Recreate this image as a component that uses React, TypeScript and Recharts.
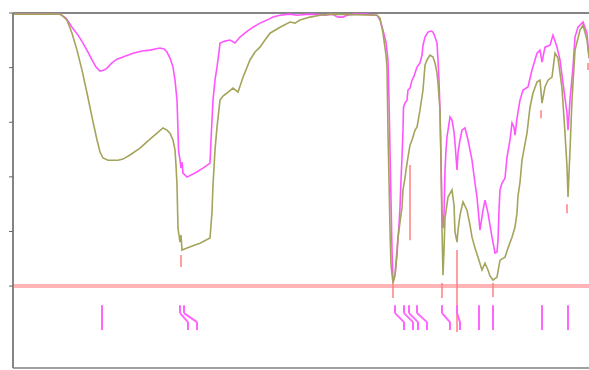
import { LineChart, Line, XAxis, YAxis, ReferenceLine } from "recharts"

// x is the channel position, y the signal level (0 = baseline)
const magentaTrace: [number, number][] = [
    [13, 99.6], [40, 99.6], [60, 99.6], [66, 98.1], [72, 94.8], [78, 91.9], [83, 89.0], [88, 85.7],
    [92, 82.8], [96, 80.2], [100, 78.7], [104, 79.1], [107, 79.8], [112, 81.7], [117, 83.1], [125, 84.2],
    [133, 85.3], [142, 86.1], [150, 86.4], [160, 87.2], [164, 86.8], [167, 85.7], [170, 83.5], [173, 80.2],
    [175, 75.4], [177, 68.1], [178, 57.1], [178.5, 49.8], [180, 46.1], [181, 43.2], [182, 45.4], [183, 41.4],
    [187, 39.9], [195, 41.4], [203, 43.2], [210, 45.0], [211, 53.5], [213, 68.1], [215, 75.4], [217, 80.2],
    [219, 85.7], [220, 89.0], [225, 89.7], [230, 90.1], [235, 89.0], [240, 91.2], [246, 93.0], [253, 94.8],
    [260, 96.3], [267, 97.4], [273, 98.5], [280, 99.2], [290, 99.6], [297, 99.2], [310, 99.6], [325, 99.2],
    [332, 99.6], [338, 98.5], [343, 98.5], [347, 99.2], [355, 99.6], [365, 99.6], [377, 99.2], [380, 97.4],
    [383, 93.7], [386, 89.3], [388, 82.8], [389, 68.1], [390, 49.8], [391, 31.5], [392, 13.2], [393, 1.5],
    [395, 4.0], [397, 13.2], [399, 22.3], [400, 28.9], [401, 38.8], [402, 47.2], [403, 57.1], [403.5, 65.5],
    [405, 67.0], [407, 68.1], [408, 71.8], [410, 72.5], [412, 75.4], [414, 76.9], [417, 80.2], [420, 81.7],
    [422, 84.6], [423, 88.2], [425, 91.2], [428, 93.0], [431, 93.4], [433, 93.0], [435, 91.2], [437, 89.0],
    [438, 82.8], [439, 75.4], [440, 64.4], [441, 46.1], [442, 27.8], [443, 21.2], [444, 26.0], [445, 42.5],
    [446, 49.8], [447, 54.6], [450, 61.9], [452, 60.8], [454, 56.4], [455, 52.4], [457, 42.5], [458, 48.7],
    [460, 53.5], [462, 57.1], [465, 57.9], [468, 53.5], [470, 49.8], [472, 46.1], [475, 37.7], [477, 32.6],
    [480, 20.5], [483, 27.8], [485, 31.5], [488, 26.7], [490, 22.3], [492, 17.9], [495, 12.1], [497, 12.5],
    [498, 16.8], [499, 27.8], [500, 35.2], [502, 37.7], [505, 39.5], [507, 47.2], [510, 53.5], [512, 59.7],
    [514, 58.2], [515, 55.3], [517, 61.5], [520, 68.1], [523, 71.8], [528, 72.9], [532, 79.1], [537, 85.3],
    [540, 86.4], [542, 82.0], [545, 87.5], [550, 88.2], [553, 91.9], [557, 87.5], [560, 82.8], [563, 74.3],
    [567, 63.3], [568, 57.1], [570, 68.1], [573, 80.2], [575, 91.2], [578, 94.8], [583, 96.7], [587, 92.6],
    [589, 83.9], [595, 79.1],
]

const oliveTrace: [number, number][] = [
    [13, 99.6], [60, 99.6], [64, 98.5], [67, 97.4], [72, 92.6], [77, 86.4], [82, 79.1], [87, 70.7],
    [92, 61.9], [97, 53.5], [100, 49.1], [103, 46.9], [108, 46.1], [113, 46.1], [118, 46.1], [123, 46.5],
    [130, 48.0], [140, 50.5], [150, 53.8], [157, 56.0], [163, 57.9], [167, 57.1], [170, 56.0], [173, 53.5],
    [175, 49.8], [176, 44.3], [177, 37.0], [178, 21.2], [180, 16.1], [181, 18.7], [182, 13.2], [187, 13.9],
    [195, 15.0], [200, 15.7], [210, 17.6], [211, 22.3], [212, 27.1], [213, 37.0], [215, 49.8], [217, 58.2],
    [220, 68.1], [223, 69.6], [227, 70.7], [233, 72.5], [238, 71.0], [243, 76.5], [250, 82.8], [255, 85.7],
    [260, 87.5], [265, 90.1], [270, 92.6], [280, 94.8], [290, 96.7], [295, 96.3], [300, 97.4], [310, 98.5],
    [320, 99.2], [330, 99.6], [377, 99.2], [380, 98.1], [383, 92.6], [386, 84.6], [387, 80.2], [388, 56.0],
    [389, 38.8], [390, 20.5], [391, 7.7], [393, 1.1], [395, 4.0], [397, 11.4], [398, 17.6], [400, 23.4],
    [402, 28.9], [403, 35.2], [405, 39.5], [406, 42.5], [408, 47.2], [410, 51.6], [412, 53.5], [415, 57.1],
    [417, 58.2], [420, 64.4], [423, 71.8], [425, 80.9], [427, 82.8], [430, 84.6], [433, 83.9], [435, 81.7],
    [437, 78.0], [438, 74.3], [440, 64.4], [441, 46.1], [442, 20.5], [443, 4.0], [444, 13.2], [445, 24.9],
    [448, 32.6], [452, 35.2], [454, 29.7], [455, 19.8], [457, 16.1], [458, 20.5], [460, 26.0], [463, 30.8],
    [467, 27.8], [470, 22.3], [472, 17.9], [475, 13.9], [478, 10.6], [482, 5.9], [485, 8.4], [488, 5.9],
    [490, 3.7], [493, 2.2], [497, 3.3], [500, 9.5], [505, 10.6], [508, 13.9], [512, 17.9], [515, 21.6],
    [517, 26.7], [518, 33.0], [520, 38.0], [522, 46.1], [527, 56.0], [530, 65.5], [533, 70.7], [537, 74.7],
    [540, 75.4], [542, 67.0], [545, 72.9], [548, 75.4], [552, 76.5], [555, 85.3], [558, 83.5], [562, 72.5],
    [565, 56.0], [567, 43.6], [568, 32.6], [570, 49.8], [572, 68.1], [575, 86.4], [580, 93.7], [583, 95.6],
    [587, 90.1], [589, 83.9], [595, 80.0],
]

// red peak picks: x, top, bottom
const peakPicks: [number, number, number][] = [
    [181, 11.4, 7.0], [393, 1.1, -4.4], [410, 44.3, 16.8], [442, 1.1, -4.4], [457, 13.2, -16.8],
    [493, 1.1, -4.0], [541, 64.4, 61.5], [567, 30.0, 26.7], [588, 81.7, 79.1],
]

// label leaders: peak x, shifted label x
const peakLabels: [number, number][] = [
    [102, 102], [180, 188], [184, 197], [395, 404], [404, 413], [409, 418], [417, 427],
    [442, 450], [457, 460], [479, 479], [493, 493], [542, 542], [568, 568],
]

const yTicks = [0, 20, 40, 60, 80, 100]

const magentaData = magentaTrace.map(([x, y]) => ({ x, y }))
const oliveData = oliveTrace.map(([x, y]) => ({ x, y }))

export default function App() {
    return (
        <div
            style={{
                position: "absolute",
                left: 0,
                top: 0,
                width: 589,
                height: 370,
                overflow: "hidden",
                background: "#fff",
            }}
        >
            <LineChart
                width={600}
                height={370}
                margin={{ top: 13, right: 0, bottom: 2, left: 0 }}
            >
                <XAxis
                    type="number"
                    dataKey="x"
                    domain={[13, 600]}
                    allowDataOverflow
                    hide
                />
                <YAxis
                    type="number"
                    domain={[-30, 100]}
                    ticks={yTicks}
                    width={13}
                    tickSize={4}
                    tickFormatter={() => ""}
                    axisLine={{ stroke: "#858585", strokeWidth: 2 }}
                    tickLine={{ stroke: "#666" }}
                />

                <ReferenceLine y={100} stroke="#858585" strokeWidth={2} />
                <ReferenceLine y={-30} stroke="#a0a0a0" strokeWidth={2} />
                <ReferenceLine y={0} stroke="#ffb4b8" strokeWidth={4} />

                <Line
                    data={magentaData}
                    dataKey="y"
                    type="linear"
                    stroke="#ff55ff"
                    strokeWidth={1.6}
                    dot={false}
                    isAnimationActive={false}
                />
                <Line
                    data={oliveData}
                    dataKey="y"
                    type="linear"
                    stroke="#a4a45c"
                    strokeWidth={1.6}
                    dot={false}
                    isAnimationActive={false}
                />

                {peakPicks.map(([x, top, bottom], i) => (
                    <ReferenceLine
                        key={"p" + i}
                        segment={[{ x, y: top }, { x, y: bottom }]}
                        stroke="#ff8080"
                        strokeWidth={1.5}
                    />
                ))}

                {peakLabels.map(([x, lx], i) => (
                    <ReferenceLine
                        key={"a" + i}
                        segment={[{ x, y: -7 }, { x, y: -9.9 }]}
                        stroke="#ff66ff"
                        strokeWidth={2}
                    />
                ))}
                {peakLabels.map(([x, lx], i) => (
                    <ReferenceLine
                        key={"b" + i}
                        segment={[{ x, y: -9.9 }, { x: lx, y: -13.2 }]}
                        stroke="#ff66ff"
                        strokeWidth={2}
                    />
                ))}
                {peakLabels.map(([x, lx], i) => (
                    <ReferenceLine
                        key={"c" + i}
                        segment={[{ x: lx, y: -13.2 }, { x: lx, y: -16.1 }]}
                        stroke="#ff66ff"
                        strokeWidth={2}
                    />
                ))}
            </LineChart>
        </div>
    )
}
